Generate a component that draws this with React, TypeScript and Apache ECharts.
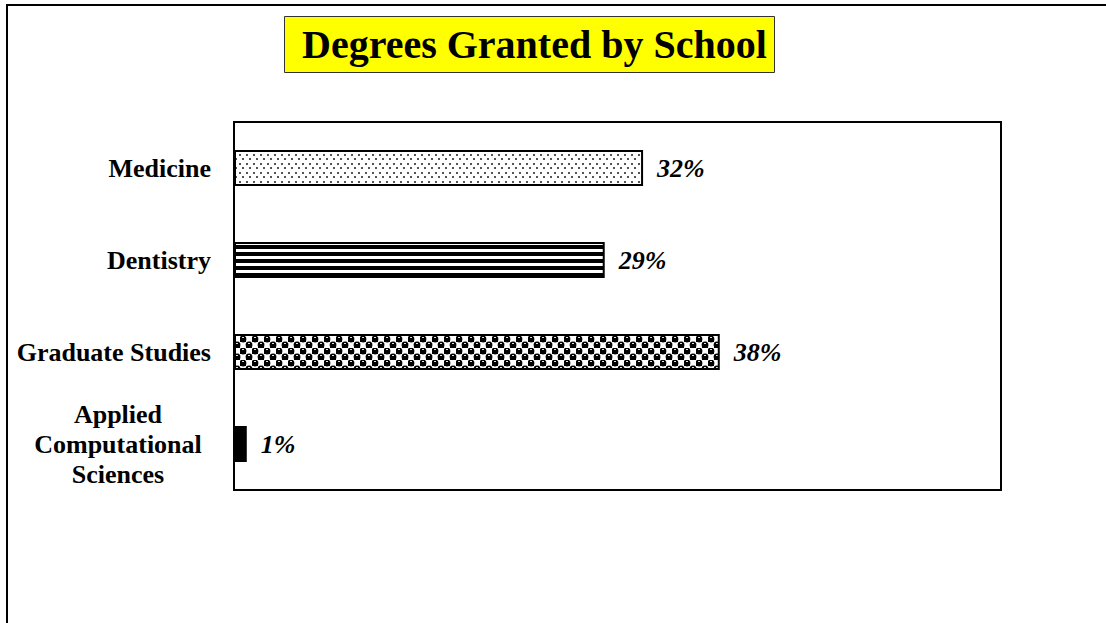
import React, { useEffect, useRef } from 'react';
import * as echarts from 'echarts';

const categories = ['Medicine', 'Dentistry', 'Graduate Studies', 'Applied Computational Sciences'];
const values = [32, 29, 38, 1];
const titleText = 'Degrees Granted by School';
const xMin = 0;
const xMax = 60;

const SERIF = 'Liberation Serif';

function makeCanvas(w: number, h: number, draw: (ctx: CanvasRenderingContext2D) => void) {
  const c = document.createElement('canvas');
  c.width = w;
  c.height = h;
  const ctx = c.getContext('2d') as CanvasRenderingContext2D;
  draw(ctx);
  return c;
}

function dotsPattern() {
  return makeCanvas(7, 9, (ctx) => {
    ctx.fillStyle = '#fff';
    ctx.fillRect(0, 0, 7, 9);
    ctx.fillStyle = '#555';
    ctx.fillRect(1, 1, 2, 2);
    ctx.fillRect(4, 5, 2, 2);
  });
}

function stripesPattern() {
  return makeCanvas(8, 7, (ctx) => {
    ctx.fillStyle = '#fff';
    ctx.fillRect(0, 0, 8, 7);
    ctx.fillStyle = '#000';
    ctx.fillRect(0, 0, 8, 4);
  });
}

function checkerPattern() {
  return makeCanvas(12, 12, (ctx) => {
    ctx.fillStyle = '#fff';
    ctx.fillRect(0, 0, 12, 12);
    const blob = (cx: number, cy: number) => {
      ctx.fillStyle = '#000';
      ctx.beginPath();
      ctx.arc(cx, cy, 3.4, 0, Math.PI * 2);
      ctx.fill();
      ctx.fillRect(cx - 3, cy, 6, 3);
      ctx.fillStyle = '#ddd';
      ctx.fillRect(cx - 1, cy - 2, 2, 1);
    };
    blob(3, 3);
    blob(9, 9);
    blob(15, 9);
    blob(-3, 9);
  });
}

export default function App() {
  const ref = useRef<HTMLDivElement>(null);
  useEffect(() => {
    document.body.style.margin = '0';
    if (!ref.current) return;
    const chart = echarts.init(ref.current, undefined, { renderer: 'svg' });
    const fills: any[] = [
      { image: dotsPattern(), repeat: 'repeat' },
      { image: stripesPattern(), repeat: 'repeat' },
      { image: checkerPattern(), repeat: 'repeat' },
      '#000',
    ];
    const option: any = {
      animation: false,
      backgroundColor: '#fff',
      textStyle: { fontFamily: SERIF },
      title: {
        text: titleText,
        left: 284,
        top: 16,
        padding: [5, 8, 5, 18],
        backgroundColor: '#FFFF00',
        borderColor: '#333',
        borderWidth: 1,
        textStyle: {
          fontFamily: SERIF,
          fontWeight: 'bold',
          fontSize: 40,
          lineHeight: 47,
          color: '#000',
        },
      },
      graphic: [
        {
          type: 'rect',
          shape: { x: 7, y: 5, width: 1300, height: 800 },
          style: { fill: 'none', stroke: '#000', lineWidth: 2 },
          silent: true,
        },
      ],
      grid: {
        left: 234,
        top: 122,
        width: 767,
        height: 368,
        show: true,
        borderColor: '#000',
        borderWidth: 2,
        backgroundColor: 'transparent',
      },
      xAxis: {
        type: 'value',
        min: xMin,
        max: xMax,
        show: false,
      },
      yAxis: {
        type: 'category',
        data: categories,
        inverse: true,
        axisLine: { show: false },
        axisTick: { show: false },
        axisLabel: {
          margin: 23,
          fontFamily: SERIF,
          formatter: (v: string) => {
            if (v === 'Applied Computational Sciences') {
              return '{c|Applied}\n{c|Computational}\n{c|Sciences}';
            }
            return '{b|' + v + '}';
          },
          rich: {
            b: {
              fontFamily: SERIF,
              fontWeight: 'bold',
              fontSize: 26,
              color: '#000',
            },
            c: {
              fontFamily: SERIF,
              fontWeight: 'bold',
              fontSize: 26,
              color: '#000',
              width: 186,
              align: 'center',
              lineHeight: 30,
            },
          },
        },
      },
      series: [
        {
          type: 'bar',
          barWidth: 36,
          data: values.map((v, i) => ({
            value: v,
            itemStyle: { color: fills[i], borderColor: '#000', borderWidth: 2 },
          })),
          label: {
            show: true,
            position: 'right',
            distance: 14,
            formatter: '{c}%',
            fontFamily: SERIF,
            fontWeight: 'bold',
            fontStyle: 'italic',
            fontSize: 26,
            color: '#000',
          },
        },
      ],
    };
    chart.setOption(option);
    return () => chart.dispose();
  }, []);
  return <div ref={ref} style={{ width: 1106, height: 623 }} />;
}
